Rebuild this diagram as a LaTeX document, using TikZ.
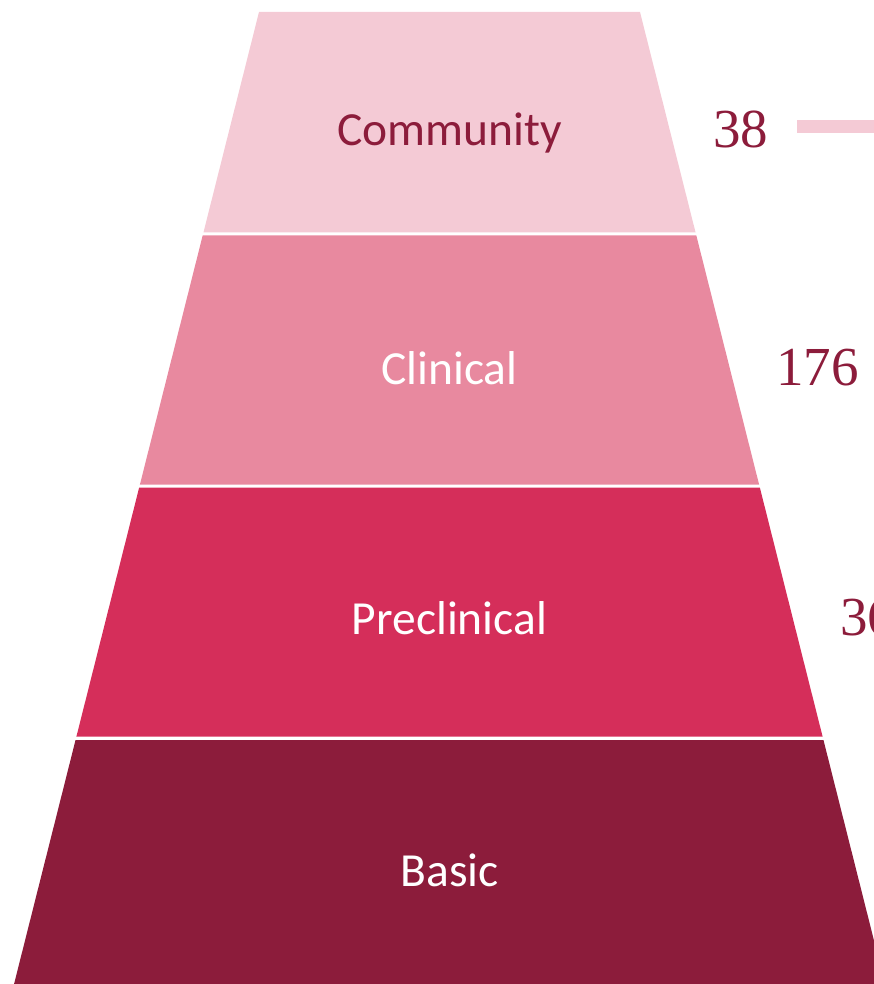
\documentclass[tikz,border=0pt]{standalone}
\usepackage{fontspec}
\setmainfont{Carlito}
\newfontfamily\numfont{Liberation Serif}
\definecolor{cCom}{HTML}{F4CAD5}
\definecolor{cCli}{HTML}{E8899F}
\definecolor{cPre}{HTML}{D52E5A}
\definecolor{cBas}{HTML}{8C1C3B}
\begin{document}
\begin{tikzpicture}[x=1pt,y=-1pt,
  lbl/.style={anchor=base,inner sep=0pt,font=\fontsize{47.5}{50}\selectfont},
  num/.style={anchor=base west,inner sep=0pt,text=cBas,font=\numfont\fontsize{55}{60}\selectfont}]
\useasboundingbox (0,0) rectangle (874,984);
\clip (0,0) rectangle (874,984);
% layer helper: top y, bottom y
\newcommand{\layer}[3]{%
  \pgfmathsetmacro{\wt}{190.5+0.252*(#1-12)}%
  \pgfmathsetmacro{\wb}{190.5+0.252*(#2-12)}%
  \fill[#3] (449.5-\wt,#1) -- (449.5+\wt,#1) -- (449.5+\wb,#2) -- (449.5-\wb,#2) -- cycle;}
\layer{12}{232.5}{cCom}
\layer{235.5}{484.5}{cCli}
\layer{487.5}{736.5}{cPre}
\layer{740}{990}{cBas}
\node[lbl,text=cBas] (community) at (449.5,146) {Community};
\node[lbl,text=white] (clinical) at (449.5,384) {Clinical};
\node[lbl,text=white] (preclinical) at (449.5,634) {Preclinical};
\node[lbl,text=white] (basic) at (449.5,886) {Basic};
\node[num] (n38) at (713,148) {38};
\node[num] (n176) at (776,385) {176};
\node[num] (n36) at (840,635) {36};
\fill[cCom] (797,120) rectangle (880,133);
\end{tikzpicture}
\end{document}
